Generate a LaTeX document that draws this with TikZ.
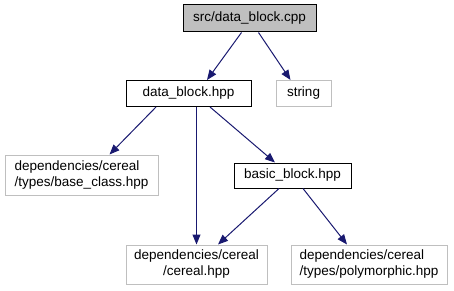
\documentclass[tikz,border=0pt]{standalone}
\usepackage{fontspec}
\setmainfont{Liberation Sans}
\usetikzlibrary{arrows.meta}
\definecolor{edgeblue}{HTML}{191970}
\definecolor{lightframe}{HTML}{BFBFBF}
\definecolor{rootfill}{HTML}{BFBFBF}
\begin{document}
\begin{tikzpicture}[x=1pt,y=1pt,
  every node/.style={font=\fontsize{13.5}{16}\selectfont, inner sep=0pt, line width=1pt},
  mainbox/.style={draw=black},
  sysbox/.style={draw=lightframe},
  dep/.style={draw=edgeblue, line width=1pt, -{Triangle[length=10pt,width=8pt]}}]
  \useasboundingbox (0,0) rectangle (454,-291);
  % files
  \node[mainbox, fill=rootfill, minimum width=133, minimum height=27] (root) at (249.5,-18.5) {src/data\_block.cpp};
  \node[mainbox, minimum width=125, minimum height=26] (dblock) at (188.5,-93.5) {data\_block.hpp};
  \node[sysbox, minimum width=55, minimum height=26] (str) at (303.5,-93.5) {string};
  \node[sysbox, minimum width=153, minimum height=40, align=left] (base) at (81.5,-175) {dependencies/cereal\\/types/base\_class.hpp};
  \node[mainbox, minimum width=117, minimum height=25] (basic) at (292.5,-175.5) {basic\_block.hpp};
  \node[sysbox, minimum width=141, minimum height=39, align=center] (cereal) at (196.5,-264.5) {dependencies/cereal\\/cereal.hpp};
  \node[sysbox, minimum width=156, minimum height=39, align=left] (poly) at (369,-264.5) {dependencies/cereal\\/types/polymorphic.hpp};
  % include edges
  \draw[dep] ([xshift=-8]root.south) -- ([xshift=18.5]dblock.north);
  \draw[dep] ([xshift=9]root.south) -- ([xshift=-13]str.north);
  \draw[dep] ([xshift=-32.5]dblock.south) -- ([xshift=28]base.north);
  \draw[dep] ([xshift=8]dblock.south) -- (cereal.north);
  \draw[dep] ([xshift=21.5]dblock.south) -- ([xshift=-17.5]basic.north);
  \draw[dep] ([xshift=-13.5]basic.south) -- ([xshift=21.5]cereal.north);
  \draw[dep] ([xshift=10.5]basic.south) -- ([xshift=-22]poly.north);
\end{tikzpicture}
\end{document}
